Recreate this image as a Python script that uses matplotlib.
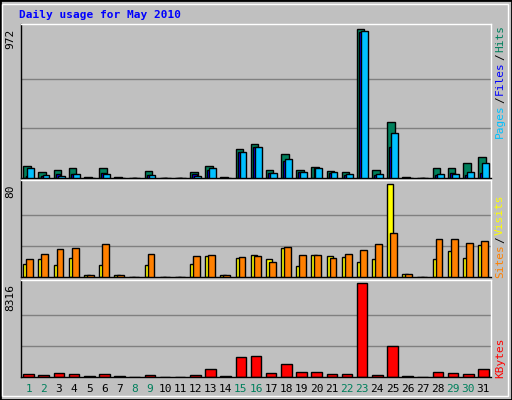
import matplotlib
matplotlib.use("Agg")
import matplotlib.pyplot as plt
from matplotlib.patches import Rectangle
import numpy as np

days = list(range(1, 32))
weekend = [1, 2, 8, 9, 15, 16, 22, 23, 29, 30]
hits = [81,42,55,62,5,62,5,0,48,0,0,42,81,5,189,220,55,154,55,75,48,42,972,55,365,5,0,62,68,95,134]
pages = [68,22,15,29,3,29,3,0,22,0,0,15,62,3,167,200,35,121,42,62,42,29,958,29,292,3,0,29,29,42,101]
files = [15,15,29,29,3,35,3,0,22,0,0,29,55,3,167,200,35,110,42,62,35,22,952,22,200,3,0,22,35,22,35]
visits = [11.3,15.7,10.4,16.5,1.7,10.4,1.7,0,10.4,0,0,11.3,18.3,1.7,16.5,19.1,15.7,25.2,9.6,19.1,18.3,17.4,13,15.7,80,2.6,0,15.7,22.6,16.5,27.8]
sites = [15.7,20,24.3,25.2,1.7,28.7,1.7,0,20,0,0,18.3,19.1,1.7,17.4,18.3,13,26,19.1,19.1,16.5,20,23.5,28.7,38.3,2.6,0,33,33,29.6,31.3]
kbytes = [303,212,395,303,121,303,121,0,212,0,0,212,668,121,1760,1851,395,1123,486,486,303,303,8316,212,2762,121,0,486,395,303,668]
max_hits, max_visits, max_kb = 972, 80, 8316

W, H = 512, 400
fig = plt.figure(figsize=(5.12, 4.0), dpi=100, facecolor="#c0c0c0")
BG = "#c0c0c0"
mono = "DejaVu Sans Mono"

def fx(px): return px / W
def fy(py): return 1 - py / H

fig.patches.append(Rectangle((0, 0), 1, 1, transform=fig.transFigure, fill=False, ec="black", lw=2))
fig.patches.append(Rectangle((fx(2), fy(396)), fx(506), (394 - 2) / H, transform=fig.transFigure, fill=False, ec="white", lw=1))

def panel(top, bottom, ymax):
    ax = fig.add_axes([fx(21), fy(bottom), fx(470), (bottom - top) / H])
    ax.set_facecolor(BG)
    ax.set_xlim(0.5, 31.5)
    ax.set_ylim(0, ymax)
    ax.set_xticks([]); ax.set_yticks([])
    for s in ax.spines.values():
        s.set_color("black"); s.set_linewidth(1)
    ax.spines["top"].set_color("white"); ax.spines["right"].set_color("white")
    return ax

d = np.array(days, dtype=float)
kw = dict(ec="black", lw=1, align="edge")

ax1 = panel(24, 178, max_hits * 153 / 148)
for f in (1/3, 2/3):
    ax1.axhline(max_hits * f, color="#808080", lw=1, zorder=0)
ax1.bar(d - 0.35, hits, 0.5, color="#00805c", zorder=2, **kw)
ax1.bar(d - 0.2, files, 0.3, color="#0000ff", zorder=3, **kw)
ax1.bar(d - 0.08, pages, 0.45, color="#00c0ff", zorder=4, **kw)

ax2 = panel(180, 277, max_visits * 96.3 / 92)
for f in (1/3, 2/3):
    ax2.axhline(max_visits * f, color="#808080", lw=1, zorder=0)
ax2.bar(d - 0.35, visits, 0.4, color="#ffff00", zorder=2, **kw)
ax2.bar(d - 0.15, sites, 0.45, color="#ff8000", zorder=3, **kw)

ax3 = panel(280, 377, max_kb * 94.7 / 91.4)
for f in (1/3, 2/3):
    ax3.axhline(max_kb * f, color="#808080", lw=1, zorder=0)
ax3.bar(d - 0.35, kbytes, 0.7, color="#ff0000", zorder=2, **kw)

for day in days:
    ax3.text(day, -0.07, str(day), transform=ax3.get_xaxis_transform(), ha="center", va="top",
             fontsize=8, family=mono, color="#00805c" if day in weekend else "black")

for ytop, txt in ((29, "972"), (184, "80"), (284, "8316")):
    fig.text(fx(10), fy(ytop), txt, rotation=90, ha="center", va="top", fontsize=8, family=mono)

fig.text(fx(19), fy(15), "Daily usage for May 2010", color="#0000ff", fontsize=8,
         family=mono, fontweight="bold", ha="left", va="center")

def side(parts):
    for txt, col, ybot in parts:
        fig.text(fx(500), fy(ybot), txt, rotation=90, ha="center", va="bottom",
                 fontsize=8, family=mono, color=col)

side([("Pages", "#00c0ff", 138), ("/", "black", 103), ("Files", "#0000ff", 95), ("/", "black", 60), ("Hits", "#00805c", 52)])
side([("Sites", "#ff8000", 278), ("/", "black", 243), ("Visits", "#ffff00", 235)])
side([("KBytes", "#ff0000", 378)])

fig.savefig("out.png", dpi=100, facecolor=fig.get_facecolor())
